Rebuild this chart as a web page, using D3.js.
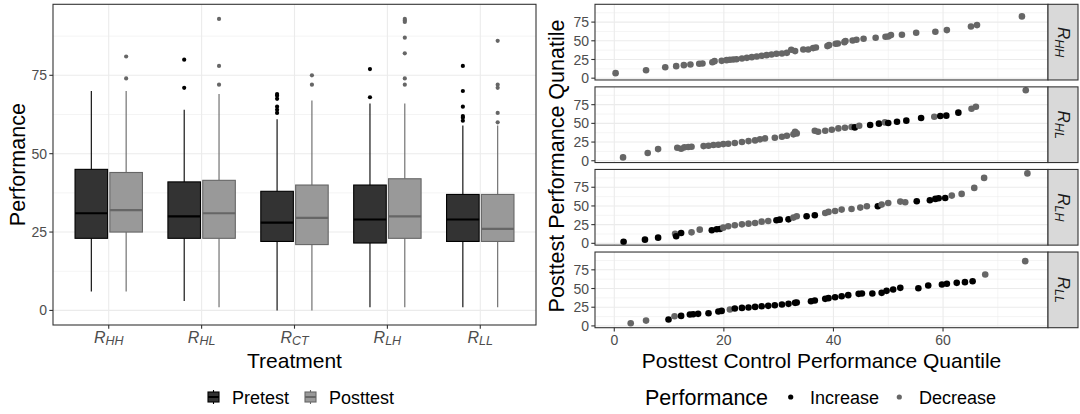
<!DOCTYPE html>
<html>
<head>
<meta charset="utf-8">
<script src="https://d3js.org/d3.v7.min.js"></script>
<style>
  body { margin: 0; background: #fff; }
  text { font-family: 'Liberation Sans', Arial, Helvetica, sans-serif; }
</style>
</head>
<body>
<svg id="chart" width="1080" height="414"></svg>
<script>
// ---- data: boxplot (left) ----
const treatments = ["HH", "HL", "CT", "LH", "LL"];
const groups = ["Pretest", "Posttest"];

const pretestLow  = [6, 3, 0, 1, 1];
const pretestQ1   = [23, 23, 22, 21.5, 22];
const pretestMed  = [31, 30, 28, 29, 29];
const pretestQ3   = [45, 41, 38, 40, 37];
const pretestHigh = [70, 64, 61, 66, 59];
const pretestOut  = [[], [71, 80], [63, 64, 65, 67.5, 68.5, 69], [68, 77], [60.5, 61.5, 62, 65, 70, 78]];

const posttestLow  = [6, 1, 0, 1, 1];
const posttestQ1   = [25, 23, 21, 23, 22];
const posttestMed  = [32, 31, 29.5, 30, 26];
const posttestQ3   = [44, 41.5, 40, 42, 37];
const posttestHigh = [70, 69, 67, 66, 59];
const posttestOut  = [[74, 81], [72, 78, 93], [72, 75], [72, 74, 82, 87, 92, 92.5, 93], [60, 63, 71, 72, 86]];

// ---- data: QQ facets (right), [control quantile, treatment quantile, increase?] ----
const facets = ["HH", "HL", "LH", "LL"];

const qqHH = [
  [0.24, 6.7, 0], [5.8, 10.7, 0], [9.3, 14.7, 0], [11.3, 16.1, 0], [12.7, 17.4, 0], [13.9, 18.3, 0],
  [15.5, 19.2, 0], [16.1, 19.6, 0], [17.9, 21.4, 0], [18.3, 22.8, 0], [19.6, 23.2, 0], [20.5, 24.1, 0],
  [21.1, 24.6, 0], [21.7, 25.0, 0], [22.3, 25.4, 0], [23.3, 26.3, 0], [24.2, 27.2, 0], [25.1, 28.1, 0],
  [26.0, 29.0, 0], [26.9, 29.9, 0], [27.8, 30.8, 0], [28.7, 31.7, 0], [29.6, 32.6, 0], [30.6, 33.0, 0],
  [31.5, 33.9, 0], [32.3, 38.0, 0], [33.0, 36.2, 0], [34.5, 38.4, 0], [35.4, 38.4, 0], [36.3, 40.2, 0],
  [36.8, 41.1, 0], [38.9, 42.9, 0], [39.2, 44.2, 0], [40.4, 46.0, 0], [40.8, 46.4, 0], [42.0, 48.2, 0],
  [42.2, 49.6, 0], [43.5, 50.4, 0], [44.2, 51.3, 0], [45.5, 52.7, 0], [47.7, 54.0, 0], [49.5, 55.4, 0],
  [50.0, 55.8, 0], [50.5, 57.6, 0], [52.5, 58.0, 0], [55.1, 60.7, 0], [58.6, 62.1, 0], [60.7, 64.3, 0],
  [65.1, 69.2, 0], [66.2, 71.0, 0], [74.4, 82.6, 0]
];

const qqHL = [
  [1.6, 4.5, 0], [6.1, 10.3, 0], [8.0, 15.6, 0], [11.5, 17.4, 0], [12.2, 16.1, 0], [12.8, 17.9, 0],
  [13.5, 18.3, 0], [14.1, 18.8, 0], [16.3, 19.6, 0], [17.2, 20.1, 0], [18.1, 21.0, 0], [19.0, 21.4, 0],
  [19.9, 22.3, 0], [20.8, 22.8, 0], [22.0, 23.7, 0], [23.3, 25.0, 0], [24.5, 26.3, 0], [25.7, 27.2, 0],
  [26.6, 28.6, 0], [27.5, 29.9, 0], [29.3, 30.8, 0], [30.6, 32.1, 0], [31.5, 33.5, 0], [32.7, 35.3, 0],
  [33.3, 36.6, 0], [33.0, 38.8, 0], [36.6, 40.2, 0], [37.2, 38.8, 0], [38.5, 40.2, 0], [39.7, 41.5, 0],
  [40.9, 43.3, 0], [42.1, 44.2, 0], [43.3, 45.1, 0], [43.9, 44.6, 1], [44.7, 46.9, 0], [46.7, 47.8, 1],
  [48.3, 49.6, 1], [49.4, 51.3, 0], [50.0, 50.4, 1], [51.6, 52.2, 1], [53.3, 53.6, 1], [56.0, 57.1, 1],
  [58.4, 58.9, 0], [59.5, 59.8, 1], [60.6, 60.3, 1], [62.8, 64.3, 1], [65.2, 69.6, 0], [66.0, 72.3, 0],
  [75.1, 94.2, 0]
];

const qqLH = [
  [1.7, 2.2, 1], [5.6, 4.9, 1], [8.0, 7.6, 1], [11.1, 12.9, 0], [11.3, 9.4, 1], [12.2, 13.8, 1],
  [14.1, 14.7, 0], [15.6, 18.3, 0], [17.8, 17.4, 1], [18.7, 18.8, 1], [19.3, 19.2, 1], [19.9, 21.0, 0],
  [20.8, 22.8, 0], [22.0, 24.1, 0], [23.3, 25.4, 0], [24.5, 26.3, 0], [25.7, 27.2, 0], [26.9, 29.0, 0],
  [28.1, 29.9, 0], [29.6, 30.8, 1], [30.2, 31.7, 1], [31.8, 32.1, 1], [32.7, 34.4, 0], [33.3, 36.2, 0],
  [35.1, 36.2, 1], [36.6, 37.5, 1], [38.5, 40.6, 0], [39.1, 42.0, 0], [40.3, 43.3, 0], [41.5, 45.1, 0],
  [43.3, 46.0, 0], [44.9, 47.8, 0], [46.1, 49.6, 0], [48.1, 49.6, 1], [48.8, 51.8, 0], [50.0, 54.0, 0],
  [52.2, 55.8, 0], [53.1, 54.9, 0], [55.2, 56.3, 1], [57.6, 57.6, 1], [58.6, 59.4, 1], [59.2, 60.3, 1],
  [60.4, 60.7, 1], [61.6, 63.8, 0], [63.4, 66.1, 0], [65.7, 74.1, 0], [67.5, 87.5, 0], [75.4, 93.5, 0]
];

const qqLL = [
  [3.0, 3.6, 0], [5.8, 7.1, 0], [9.9, 8.5, 1], [11.0, 12.9, 0], [12.2, 13.4, 1], [13.8, 15.2, 1],
  [14.4, 15.6, 1], [15.3, 16.1, 1], [17.2, 17.0, 1], [19.0, 19.2, 1], [19.6, 20.1, 1], [21.1, 21.9, 0],
  [22.0, 23.2, 1], [23.3, 24.1, 1], [24.5, 24.6, 1], [25.7, 25.4, 1], [26.9, 26.3, 1], [28.1, 26.8, 1],
  [29.3, 27.7, 1], [30.6, 28.6, 1], [31.8, 29.5, 1], [33.0, 30.8, 1], [33.3, 31.3, 1], [35.9, 33.0, 1],
  [36.6, 33.9, 1], [38.5, 36.2, 1], [39.1, 37.1, 1], [40.3, 38.4, 1], [41.5, 39.7, 1], [42.7, 41.1, 1],
  [44.6, 42.9, 1], [45.2, 43.3, 1], [47.1, 43.3, 1], [48.8, 44.2, 1], [49.7, 46.9, 1], [50.9, 48.7, 1],
  [52.2, 50.9, 1], [55.5, 50.4, 1], [57.3, 54.0, 1], [59.8, 55.4, 1], [60.7, 56.3, 1], [62.5, 57.6, 1],
  [64.0, 58.5, 1], [65.4, 59.8, 1], [67.7, 68.8, 0], [75.0, 86.6, 0]
];

const qqData = [qqHH, qqHL, qqLH, qqLL];

const yTicks = [0, 25, 50, 75];
const yMinor = [12.5, 37.5, 62.5, 87.5];
const qxTicks = [0, 20, 40, 60];
const qxMinor = [10, 30, 50, 70];

// ---- styles ----
const gridCol = "#ebebeb";
const tickTextCol = "#4d4d4d";
const borderCol = "#333333";
const fillCol = { Pretest: "#333333", Posttest: "#999999" };
const lineCol = { Pretest: "#000000", Posttest: "#666666" };
const pointCol = ["#666666", "#000000"];

const svg = d3.select("#chart");

function expand(ext, m) {
  const r = ext[1] - ext[0];
  return [ext[0] - r * m, ext[1] + r * m];
}

// ================= LEFT: boxplot =================
const L = { left: 53, right: 536, top: 4.3, bottom: 325 };

const allLeft = [].concat(pretestLow, pretestHigh, posttestLow, posttestHigh, pretestOut.flat(), posttestOut.flat());
const yL = d3.scaleLinear().domain(expand(d3.extent(allLeft), 0.05)).range([L.bottom, L.top]);
const xL = d3.scaleBand().domain(treatments).range([L.left, L.right]).paddingInner(0).paddingOuter(0.1);
const step = xL.bandwidth();
const xSub = d3.scaleBand().domain(groups).range([-0.375 * step, 0.375 * step]);
const boxW = xSub.bandwidth() * 0.935;

const gL = svg.append("g");

// grid
gL.selectAll(".ymin").data(yMinor).join("line")
  .attr("x1", L.left).attr("x2", L.right)
  .attr("y1", d => yL(d)).attr("y2", d => yL(d))
  .attr("stroke", gridCol).attr("stroke-width", 0.55);
gL.selectAll(".ymaj").data(yTicks).join("line")
  .attr("x1", L.left).attr("x2", L.right)
  .attr("y1", d => yL(d)).attr("y2", d => yL(d))
  .attr("stroke", gridCol).attr("stroke-width", 1.1);
gL.selectAll(".xmaj").data(treatments).join("line")
  .attr("x1", d => xL(d) + step / 2).attr("x2", d => xL(d) + step / 2)
  .attr("y1", L.top).attr("y2", L.bottom)
  .attr("stroke", gridCol).attr("stroke-width", 1.1);

// boxes
const boxes = [];
treatments.forEach((t, i) => {
  boxes.push({ t, g: "Pretest", lo: pretestLow[i], q1: pretestQ1[i], med: pretestMed[i], q3: pretestQ3[i], hi: pretestHigh[i], out: pretestOut[i] });
  boxes.push({ t, g: "Posttest", lo: posttestLow[i], q1: posttestQ1[i], med: posttestMed[i], q3: posttestQ3[i], hi: posttestHigh[i], out: posttestOut[i] });
});

boxes.forEach(b => {
  const cx = xL(b.t) + step / 2 + xSub(b.g) + xSub.bandwidth() / 2;
  const g = gL.append("g");
  g.append("line").attr("x1", cx).attr("x2", cx).attr("y1", yL(b.hi)).attr("y2", yL(b.q3))
    .attr("stroke", lineCol[b.g]).attr("stroke-width", 1.1);
  g.append("line").attr("x1", cx).attr("x2", cx).attr("y1", yL(b.q1)).attr("y2", yL(b.lo))
    .attr("stroke", lineCol[b.g]).attr("stroke-width", 1.1);
  g.append("rect").attr("x", cx - boxW / 2).attr("width", boxW)
    .attr("y", yL(b.q3)).attr("height", yL(b.q1) - yL(b.q3))
    .attr("fill", fillCol[b.g]).attr("stroke", lineCol[b.g]).attr("stroke-width", 1.1);
  g.append("line").attr("x1", cx - boxW / 2).attr("x2", cx + boxW / 2)
    .attr("y1", yL(b.med)).attr("y2", yL(b.med))
    .attr("stroke", lineCol[b.g]).attr("stroke-width", 2.2);
  g.selectAll("circle").data(b.out).join("circle")
    .attr("cx", cx).attr("cy", d => yL(d)).attr("r", 2.1)
    .attr("fill", lineCol[b.g]);
});

// border
gL.append("rect").attr("x", L.left).attr("y", L.top)
  .attr("width", L.right - L.left).attr("height", L.bottom - L.top)
  .attr("fill", "none").attr("stroke", borderCol).attr("stroke-width", 1.1);

// y axis
gL.selectAll(".yt").data(yTicks).join("line")
  .attr("x1", L.left - 3.7).attr("x2", L.left)
  .attr("y1", d => yL(d)).attr("y2", d => yL(d))
  .attr("stroke", borderCol).attr("stroke-width", 1.1);
gL.selectAll(".ytl").data(yTicks).join("text")
  .attr("x", L.left - 6).attr("y", d => yL(d)).attr("dy", "0.36em")
  .attr("text-anchor", "end").attr("font-size", 14).attr("fill", tickTextCol)
  .text(d => d);

// x axis
gL.selectAll(".xt").data(treatments).join("line")
  .attr("x1", d => xL(d) + step / 2).attr("x2", d => xL(d) + step / 2)
  .attr("y1", L.bottom).attr("y2", L.bottom + 3.7)
  .attr("stroke", borderCol).attr("stroke-width", 1.1);
treatments.forEach(t => {
  const tx = gL.append("text").attr("x", xL(t) + step / 2).attr("y", 342.5)
    .attr("text-anchor", "middle").attr("fill", tickTextCol).attr("font-style", "italic");
  tx.append("tspan").attr("font-size", 16).text("R");
  tx.append("tspan").attr("font-size", 12.5).attr("dy", 2.5).text(t);
});

gL.append("text").attr("x", (L.left + L.right) / 2).attr("y", 368)
  .attr("text-anchor", "middle").attr("font-size", 21).attr("fill", "#000").text("Treatment");
gL.append("text").attr("transform", `translate(24.5,${(L.top + L.bottom) / 2}) rotate(-90)`)
  .attr("text-anchor", "middle").attr("font-size", 21.5).attr("fill", "#000").text("Performance");

// legend (left)
const legL = [{ g: "Pretest", kx: 213.5, tx: 232 }, { g: "Posttest", kx: 310.5, tx: 329 }];
legL.forEach(d => {
  const k = svg.append("g");
  k.append("line").attr("x1", d.kx).attr("x2", d.kx).attr("y1", 390).attr("y2", 404)
    .attr("stroke", lineCol[d.g]).attr("stroke-width", 1.1);
  k.append("rect").attr("x", d.kx - 5.5).attr("y", 392).attr("width", 11).attr("height", 10)
    .attr("fill", fillCol[d.g]).attr("stroke", lineCol[d.g]).attr("stroke-width", 1.1);
  k.append("line").attr("x1", d.kx - 5.5).attr("x2", d.kx + 5.5).attr("y1", 397).attr("y2", 397)
    .attr("stroke", lineCol[d.g]).attr("stroke-width", 2);
  svg.append("text").attr("x", d.tx).attr("y", 403.5).attr("font-size", 18).attr("fill", "#000").text(d.g);
});

// ================= RIGHT: QQ facets =================
const R = { left: 595, right: 1048, stripR: 1078, top: 4.3, bottom: 327.7, gap: 6.9 };
const panelH = (R.bottom - R.top - 3 * R.gap) / 4;

const allQ = qqData.flat();
const xR = d3.scaleLinear().domain(expand(d3.extent(allQ, d => d[0]), 0.05)).range([R.left, R.right]);
const yDomR = expand(d3.extent(allQ, d => d[1]), 0.05);

facets.forEach((f, i) => {
  const top = R.top + i * (panelH + R.gap);
  const bot = top + panelH;
  const yR = d3.scaleLinear().domain(yDomR).range([bot, top]);
  const g = svg.append("g");

  g.append("rect").attr("x", R.left).attr("y", top).attr("width", R.right - R.left).attr("height", panelH)
    .attr("fill", "#fff");
  g.selectAll(".ymin").data(yMinor).join("line")
    .attr("x1", R.left).attr("x2", R.right).attr("y1", d => yR(d)).attr("y2", d => yR(d))
    .attr("stroke", gridCol).attr("stroke-width", 0.55);
  g.selectAll(".xmin").data(qxMinor).join("line")
    .attr("x1", d => xR(d)).attr("x2", d => xR(d)).attr("y1", top).attr("y2", bot)
    .attr("stroke", gridCol).attr("stroke-width", 0.55);
  g.selectAll(".ymaj").data(yTicks).join("line")
    .attr("x1", R.left).attr("x2", R.right).attr("y1", d => yR(d)).attr("y2", d => yR(d))
    .attr("stroke", gridCol).attr("stroke-width", 1.1);
  g.selectAll(".xmaj").data(qxTicks).join("line")
    .attr("x1", d => xR(d)).attr("x2", d => xR(d)).attr("y1", top).attr("y2", bot)
    .attr("stroke", gridCol).attr("stroke-width", 1.1);

  g.selectAll("circle").data(qqData[i]).join("circle")
    .attr("cx", d => xR(d[0])).attr("cy", d => yR(d[1])).attr("r", 3.3)
    .attr("fill", d => pointCol[d[2]]);

  g.append("rect").attr("x", R.left).attr("y", top).attr("width", R.right - R.left).attr("height", panelH)
    .attr("fill", "none").attr("stroke", borderCol).attr("stroke-width", 1.1);

  // strip
  g.append("rect").attr("x", R.right).attr("y", top).attr("width", R.stripR - R.right).attr("height", panelH)
    .attr("fill", "#d9d9d9").attr("stroke", borderCol).attr("stroke-width", 1.1);
  const st = g.append("text")
    .attr("transform", `translate(${(R.right + R.stripR) / 2},${(top + bot) / 2}) rotate(90)`)
    .attr("y", 5.5).attr("text-anchor", "middle").attr("fill", "#1a1a1a").attr("font-style", "italic");
  st.append("tspan").attr("font-size", 17).text("R");
  st.append("tspan").attr("font-size", 12.5).attr("dy", 2.5).text(f);

  // y axis
  g.selectAll(".yt").data(yTicks).join("line")
    .attr("x1", R.left - 3.7).attr("x2", R.left).attr("y1", d => yR(d)).attr("y2", d => yR(d))
    .attr("stroke", borderCol).attr("stroke-width", 1.1);
  g.selectAll(".ytl").data(yTicks).join("text")
    .attr("x", R.left - 6).attr("y", d => yR(d)).attr("dy", "0.36em")
    .attr("text-anchor", "end").attr("font-size", 14).attr("fill", tickTextCol).text(d => d);

  if (i === facets.length - 1) {
    g.selectAll(".xt").data(qxTicks).join("line")
      .attr("x1", d => xR(d)).attr("x2", d => xR(d)).attr("y1", bot).attr("y2", bot + 3.7)
      .attr("stroke", borderCol).attr("stroke-width", 1.1);
    g.selectAll(".xtl").data(qxTicks).join("text")
      .attr("x", d => xR(d)).attr("y", 345)
      .attr("text-anchor", "middle").attr("font-size", 14).attr("fill", tickTextCol).text(d => d);
  }
});

svg.append("text").attr("x", (R.left + R.right) / 2).attr("y", 368)
  .attr("text-anchor", "middle").attr("font-size", 21).attr("fill", "#000")
  .text("Posttest Control Performance Quantile");
svg.append("text").attr("transform", `translate(564,${(R.top + R.bottom) / 2}) rotate(-90)`)
  .attr("text-anchor", "middle").attr("font-size", 21.5).attr("fill", "#000")
  .text("Posttest Performance Qunatile");

// legend (right)
svg.append("text").attr("x", 645).attr("y", 404.5).attr("font-size", 21.5).attr("fill", "#000").text("Performance");
const legR = [{ lab: "Increase", c: pointCol[1], kx: 790.7, tx: 810 }, { lab: "Decrease", c: pointCol[0], kx: 899.3, tx: 919 }];
legR.forEach(d => {
  svg.append("circle").attr("cx", d.kx).attr("cy", 397).attr("r", 2.6).attr("fill", d.c);
  svg.append("text").attr("x", d.tx).attr("y", 403.5).attr("font-size", 18).attr("fill", "#000").text(d.lab);
});
</script>
</body>
</html>
